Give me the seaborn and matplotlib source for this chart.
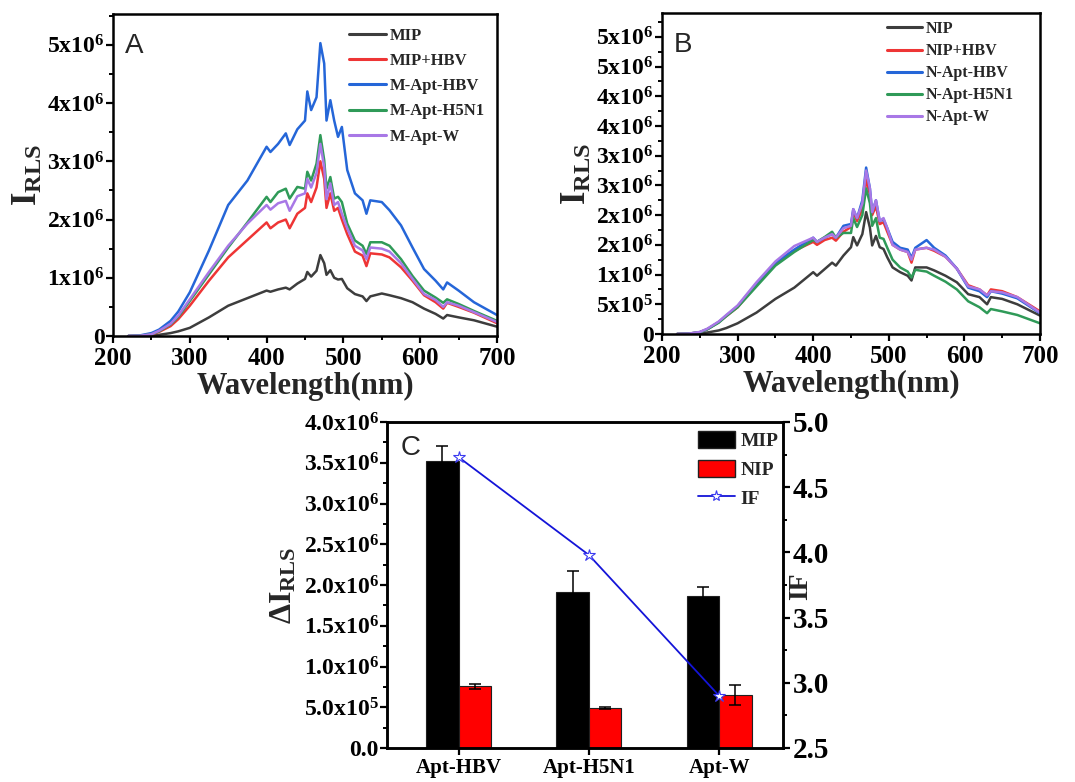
import numpy as np
import pandas as pd
import matplotlib
matplotlib.use("Agg")
import matplotlib.pyplot as plt
import seaborn as sns
from matplotlib.ticker import MultipleLocator
from matplotlib.lines import Line2D
from matplotlib.patches import Patch

# ---------------- data (intensities in units of 1e6) ----------------
SCALE = 1e6
WAVELENGTH = [220, 235, 250, 260, 275, 285, 300, 325, 350, 375, 400, 405, 415, 425, 430,
              440, 450, 453, 458, 465, 470, 475, 478, 483, 488, 493, 498, 505, 515, 525,
              530, 535, 550, 560, 575, 590, 605, 620, 630, 635, 650, 670, 700]

A_LABELS = ["MIP", "MIP+HBV", "M-Apt-HBV", "M-Apt-H5N1", "M-Apt-W"]
A_MIP = [0.0, 0.0, 0.01, 0.02, 0.05, 0.08, 0.14, 0.32, 0.52, 0.65, 0.78, 0.76, 0.8, 0.83, 0.8,
         0.9, 0.98, 1.1, 1.02, 1.12, 1.39, 1.25, 1.05, 1.13, 1.0, 0.97, 0.98, 0.82, 0.72, 0.68,
         0.6, 0.68, 0.73, 0.7, 0.65, 0.58, 0.47, 0.38, 0.3, 0.36, 0.32, 0.27, 0.16]
A_MIP_HBV = [0.0, 0.005, 0.025, 0.07, 0.17, 0.29, 0.52, 0.95, 1.35, 1.65, 1.95, 1.85, 1.95, 2.0, 1.85,
             2.1, 2.2, 2.45, 2.3, 2.55, 3.0, 2.7, 2.2, 2.45, 2.15, 2.2, 2.0, 1.75, 1.45, 1.38,
             1.2, 1.42, 1.4, 1.35, 1.18, 0.95, 0.7, 0.58, 0.47, 0.57, 0.5, 0.4, 0.22]
A_M_APT_HBV = [0.0, 0.01, 0.05, 0.11, 0.26, 0.42, 0.75, 1.47, 2.25, 2.67, 3.25, 3.16, 3.3, 3.48, 3.28,
               3.55, 3.7, 4.2, 3.88, 4.1, 5.03, 4.68, 3.7, 4.05, 3.7, 3.42, 3.59, 2.85, 2.45, 2.33,
               2.1, 2.33, 2.3, 2.16, 1.9, 1.52, 1.15, 0.95, 0.8, 0.92, 0.78, 0.58, 0.36]
A_M_APT_H5N1 = [0.0, 0.005, 0.03, 0.08, 0.2, 0.33, 0.6, 1.06, 1.52, 1.95, 2.39, 2.3, 2.47, 2.53, 2.36,
                2.56, 2.53, 2.82, 2.67, 2.96, 3.45, 3.02, 2.53, 2.73, 2.36, 2.39, 2.3, 1.93, 1.64, 1.55,
                1.41, 1.61, 1.61, 1.55, 1.32, 1.03, 0.78, 0.66, 0.57, 0.63, 0.55, 0.43, 0.26]
A_M_APT_W = [0.0, 0.005, 0.03, 0.09, 0.21, 0.35, 0.63, 1.1, 1.55, 1.93, 2.25, 2.17, 2.28, 2.32, 2.15,
             2.4, 2.45, 2.7, 2.55, 2.8, 3.3, 2.9, 2.35, 2.62, 2.25, 2.3, 2.1, 1.85, 1.55, 1.47,
             1.32, 1.52, 1.5, 1.45, 1.25, 0.98, 0.72, 0.62, 0.5, 0.58, 0.52, 0.41, 0.24]

B_LABELS = ["NIP", "NIP+HBV", "N-Apt-HBV", "N-Apt-H5N1", "N-Apt-W"]
B_NIP = [0.0, 0.0, 0.01, 0.025, 0.06, 0.1, 0.18, 0.36, 0.59, 0.78, 1.04, 0.98, 1.09, 1.2, 1.15,
         1.32, 1.46, 1.63, 1.49, 1.68, 2.05, 1.79, 1.49, 1.65, 1.46, 1.43, 1.29, 1.12, 1.04, 0.98,
         0.9, 1.12, 1.12, 1.07, 0.98, 0.87, 0.67, 0.62, 0.5, 0.62, 0.59, 0.5, 0.31]
B_NIP_HBV = [0.0, 0.005, 0.03, 0.08, 0.2, 0.3, 0.45, 0.82, 1.18, 1.4, 1.55, 1.5, 1.58, 1.62, 1.57,
             1.72, 1.8, 2.05, 1.9, 2.1, 2.6, 2.35, 2.0, 2.15, 1.85, 1.88, 1.72, 1.5, 1.42, 1.38,
             1.2, 1.42, 1.45, 1.4, 1.3, 1.1, 0.82, 0.75, 0.65, 0.75, 0.72, 0.62, 0.38]
B_N_APT_HBV = [0.0, 0.005, 0.03, 0.08, 0.2, 0.31, 0.47, 0.85, 1.2, 1.42, 1.62, 1.55, 1.62, 1.68, 1.62,
               1.82, 1.85, 2.1, 1.95, 2.25, 2.8, 2.45, 2.05, 2.25, 1.9, 1.93, 1.78, 1.55, 1.45, 1.42,
               1.28, 1.45, 1.58, 1.45, 1.32, 1.1, 0.78, 0.72, 0.62, 0.72, 0.68, 0.6, 0.35]
B_N_APT_H5N1 = [0.0, 0.005, 0.03, 0.08, 0.19, 0.3, 0.45, 0.8, 1.15, 1.38, 1.58, 1.55, 1.63, 1.72, 1.62,
                1.7, 1.7, 1.95, 1.8, 2.0, 2.45, 2.2, 1.82, 1.95, 1.62, 1.6, 1.45, 1.25, 1.12, 1.05,
                0.95, 1.08, 1.05, 0.98, 0.88, 0.75, 0.55, 0.45, 0.35, 0.42, 0.38, 0.32, 0.18]
B_N_APT_W = [0.0, 0.006, 0.035, 0.09, 0.21, 0.32, 0.48, 0.87, 1.22, 1.48, 1.62, 1.55, 1.62, 1.68, 1.62,
             1.78, 1.82, 2.1, 1.95, 2.2, 2.75, 2.45, 2.05, 2.25, 1.9, 1.95, 1.78, 1.5, 1.42, 1.38,
             1.25, 1.42, 1.45, 1.42, 1.3, 1.1, 0.8, 0.75, 0.65, 0.72, 0.7, 0.62, 0.36]

SPEC_COLORS = ["#3d3d3d", "#ee3535", "#2566d8", "#2f9a58", "#a878e6"]

A_YTICKS = [0, 1, 2, 3, 4, 5]
A_YTICK_LABELS = ["0", r"$1x10^6$", r"$2x10^6$", r"$3x10^6$", r"$4x10^6$", r"$5x10^6$"]
B_YTICKS = [0, 0.5, 1.0, 1.5, 2.0, 2.5, 3.0, 3.5, 4.0, 4.5, 5.0]
B_YTICK_LABELS = ["0", r"$5x10^5$", r"$1x10^6$", r"$2x10^6$", r"$2x10^6$", r"$3x10^6$",
                  r"$3x10^6$", r"$4x10^6$", r"$4x10^6$", r"$5x10^6$", r"$5x10^6$"]
X_TICKS = [200, 300, 400, 500, 600, 700]

# Panel C
CATEGORIES = ["Apt-HBV", "Apt-H5N1", "Apt-W"]
MIP_DELTA = [3.52, 1.91, 1.86]
MIP_ERR = [0.18, 0.26, 0.12]
NIP_DELTA = [0.76, 0.49, 0.65]
NIP_ERR = [0.03, 0.01, 0.12]
IF_VALUES = [4.73, 3.98, 2.90]
C_YTICKS = [0, 0.5, 1.0, 1.5, 2.0, 2.5, 3.0, 3.5, 4.0]
C_YTICK_LABELS = ["0.0", r"$5.0x10^5$", r"$1.0x10^6$", r"$1.5x10^6$", r"$2.0x10^6$",
                  r"$2.5x10^6$", r"$3.0x10^6$", r"$3.5x10^6$", r"$4.0x10^6$"]
IF_TICKS = [2.5, 3.0, 3.5, 4.0, 4.5, 5.0]

# ---------------- style ----------------
sns.set_theme(style="ticks")
plt.rcParams.update({
    "font.family": ["Liberation Serif", "DejaVu Serif"],
    "font.weight": "bold",
    "mathtext.fontset": "custom",
    "mathtext.rm": "Liberation Serif:bold",
    "mathtext.it": "Liberation Serif:bold",
    "mathtext.bf": "Liberation Serif:bold",
    "mathtext.default": "rm",
    "axes.linewidth": 1.8,
    "axes.edgecolor": "black",
    "xtick.direction": "out",
    "ytick.direction": "out",
    "xtick.major.width": 1.6,
    "ytick.major.width": 1.6,
    "xtick.minor.width": 1.4,
    "ytick.minor.width": 1.4,
    "xtick.major.size": 5,
    "ytick.major.size": 5,
    "xtick.minor.size": 3,
    "ytick.minor.size": 3,
    "xtick.color": "black",
    "ytick.color": "black",
})

W, H = 1075, 782
fig = plt.figure(figsize=(W / 100, H / 100), dpi=100)


def px_axes(left, top, right, bottom):
    return fig.add_axes([left / W, 1 - bottom / H, (right - left) / W, (bottom - top) / H])


def spectrum_panel(ax, labels, series, ymax, yticks, ytick_labels, minor_y, letter,
                   leg_anchor, leg_size, leg_spacing):
    frames = []
    for lab, vals in zip(labels, series):
        frames.append(pd.DataFrame({"wl": WAVELENGTH, "I": np.array(vals) * SCALE, "sample": lab}))
    df = pd.concat(frames, ignore_index=True)
    sns.lineplot(data=df, x="wl", y="I", hue="sample", hue_order=labels,
                 palette=dict(zip(labels, SPEC_COLORS)), estimator=None, sort=True,
                 linewidth=1.8, ax=ax)
    ax.set_xlim(200, 700)
    ax.set_ylim(0, ymax * SCALE)
    ax.set_xticks(X_TICKS)
    ax.set_xticklabels([str(t) for t in X_TICKS], fontsize=18, fontweight="bold")
    ax.xaxis.set_minor_locator(MultipleLocator(50))
    ax.set_yticks(np.array(yticks) * SCALE)
    ax.set_yticklabels(ytick_labels, fontsize=17, fontweight="bold")
    ax.yaxis.set_minor_locator(MultipleLocator(minor_y * SCALE))
    ax.tick_params(axis="x", pad=3)
    ax.tick_params(axis="y", pad=1)
    ax.set_xlabel("Wavelength(nm)", fontsize=22, fontweight="bold", labelpad=1)
    ax.set_ylabel(r"$I_{RLS}$", fontsize=25, labelpad=2)
    for s in ax.spines.values():
        s.set_visible(True)
        s.set_linewidth(1.8)
    ax.text(0.03, 0.94, letter, transform=ax.transAxes, fontsize=20,
            family="Liberation Sans", fontweight="normal", va="top", ha="left")
    sns.move_legend(ax, "upper left", bbox_to_anchor=leg_anchor, frameon=False, title=None,
                    prop={"family": "Liberation Serif", "weight": "bold", "size": leg_size},
                    handlelength=2.2, handletextpad=0.25, labelspacing=leg_spacing,
                    borderpad=0, borderaxespad=0)
    for h in ax.get_legend().get_lines():
        h.set_linewidth(2.2)


axA = px_axes(113, 14, 497, 336)
spectrum_panel(axA, A_LABELS, [A_MIP, A_MIP_HBV, A_M_APT_HBV, A_M_APT_H5N1, A_M_APT_W],
               5.53, A_YTICKS, A_YTICK_LABELS, 0.5, "A", (0.615, 0.957), 12, 0.55)

axB = px_axes(662, 13, 1040, 334)
spectrum_panel(axB, B_LABELS, [B_NIP, B_NIP_HBV, B_N_APT_HBV, B_N_APT_H5N1, B_N_APT_W],
               5.40, B_YTICKS, B_YTICK_LABELS, 0.25, "B", (0.595, 0.975), 11.5, 0.38)

# ---------------- panel C ----------------
axC = px_axes(387, 422, 783, 748)
dfC = pd.DataFrame({
    "cat": CATEGORIES * 2,
    "val": np.array(MIP_DELTA + NIP_DELTA) * SCALE,
    "grp": ["MIP"] * len(CATEGORIES) + ["NIP"] * len(CATEGORIES),
})
sns.barplot(data=dfC, x="cat", y="val", hue="grp", hue_order=["MIP", "NIP"],
            palette={"MIP": "#000000", "NIP": "#ff0000"}, width=0.5, errorbar=None,
            saturation=1, edgecolor="#202020", linewidth=0.8, legend=False, ax=axC)
for cont, errs in zip(axC.containers, [MIP_ERR, NIP_ERR]):
    for bar, e in zip(cont, errs):
        axC.errorbar(bar.get_x() + bar.get_width() / 2, bar.get_height(), yerr=e * SCALE,
                     color="black", capsize=4, elinewidth=1.1, capthick=1.1, zorder=5)
axC.set_xlim(-0.55, 2.49)
axC.set_ylim(0, 4.0 * SCALE)
axC.set_yticks(np.array(C_YTICKS) * SCALE)
axC.set_yticklabels(C_YTICK_LABELS, fontsize=17, fontweight="bold")
axC.yaxis.set_minor_locator(MultipleLocator(0.25 * SCALE))
axC.set_xticks(range(len(CATEGORIES)))
axC.set_xticklabels(CATEGORIES, fontsize=15, fontweight="bold")
axC.tick_params(axis="x", pad=2)
axC.tick_params(axis="y", pad=1)
axC.set_xlabel("")
axC.set_ylabel(r"$\Delta I_{RLS}$", fontsize=23, labelpad=4)
for s in axC.spines.values():
    s.set_visible(True)
    s.set_linewidth(1.8)

axR = axC.twinx()
sns.lineplot(x=np.arange(len(CATEGORIES)), y=IF_VALUES, color="#1414d8", linewidth=1.3,
             marker="*", markersize=9, markerfacecolor="white", markeredgecolor="#3a3af0",
             markeredgewidth=0.8, ax=axR)
axR.set_ylim(2.5, 5.0)
axR.set_yticks(IF_TICKS)
axR.set_yticklabels([f"{t:.1f}" for t in IF_TICKS], fontsize=21, fontweight="bold")
axR.yaxis.set_minor_locator(MultipleLocator(0.25))
axR.tick_params(axis="y", pad=2)
axR.set_ylabel("IF", fontsize=20, fontweight="bold")
axR.yaxis.set_label_coords(1.045, 0.497)
axR.yaxis.label.set_horizontalalignment("center")
axR.yaxis.label.set_verticalalignment("center")
for s in axR.spines.values():
    s.set_linewidth(1.8)

axC.text(0.035, 0.96, "C", transform=axC.transAxes, fontsize=20,
         family="Liberation Sans", fontweight="normal", va="top", ha="left")

handles = [Patch(facecolor="#000000", edgecolor="#202020"),
           Patch(facecolor="#ff0000", edgecolor="#202020"),
           Line2D([0], [0], color="#1414d8", linewidth=1.3, marker="*", markersize=8,
                  markerfacecolor="white", markeredgecolor="#3a3af0", markeredgewidth=0.8)]
axR.legend(handles, ["MIP", "NIP", "IF"], loc="upper left", bbox_to_anchor=(0.785, 0.972),
           frameon=False, prop={"family": "Liberation Serif", "weight": "bold", "size": 14},
           handlelength=1.9, handleheight=0.95, handletextpad=0.3, labelspacing=0.5,
           borderpad=0, borderaxespad=0)

fig.savefig("out.png", dpi=100)
